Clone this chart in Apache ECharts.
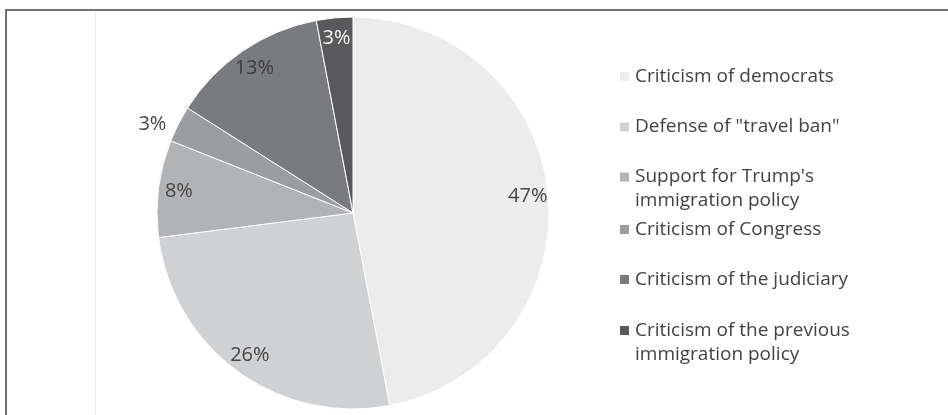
<!DOCTYPE html>
<html>
<head>
<meta charset="utf-8">
<script src="https://cdn.jsdelivr.net/npm/echarts@6/dist/echarts.min.js"></script>
<style>
html,body{margin:0;padding:0;background:#fff;}
#frame{position:absolute;left:5px;top:9px;width:943px;height:406px;border-top:2px solid #707070;border-left:2px solid #707070;box-sizing:border-box;}
#rule{position:absolute;left:95px;top:11px;width:1px;height:404px;background:#e8e8e8;}
#chart{position:absolute;left:0;top:0;width:948px;height:415px;}
</style>
</head>
<body>
<div id="frame"></div>
<div id="rule"></div>
<div id="chart"></div>
<script>
// ---- data ----
const categories = ['Criticism of democrats', 'Defense of "travel ban"', "Support for Trump's immigration policy", 'Criticism of Congress', 'Criticism of the judiciary', 'Criticism of the previous immigration policy'];
const values = [47, 26, 8, 3, 13, 3];
const legendLabels = ['Criticism of democrats', 'Defense of "travel ban"', "Support for Trump's\nimmigration policy", 'Criticism of Congress', 'Criticism of the judiciary', "Criticism of the previous\nimmigration policy"];

// ---- styles ----
const sliceColors = ['#ececed', '#d0d1d3', '#b2b3b5', '#9c9da0', '#7a7b7e', '#59595b'];
const labelColors = ['#454545', '#454545', '#454545', '#454545', '#3c3c3c', '#f4f4f4'];
const outsideLabel = [false, false, false, true, false, false];
const legendMid = [76.5, 127, 177, 229.5, 279.5, 330.5];
const FONT = "'Open Sans', sans-serif";
const LH = 24;

const chart = echarts.init(document.getElementById('chart'), null, {renderer: 'canvas'});

const legends = categories.map(function (name, i) {
  const twoLine = legendLabels[i].indexOf('\n') >= 0;
  return {
    data: [name],
    orient: 'vertical',
    left: 618,
    top: legendMid[i] - (twoLine ? LH * 1.5 : LH / 2),
    padding: 0,
    icon: 'rect',
    itemWidth: 11,
    itemHeight: 11,
    itemGap: 0,
    selectedMode: false,
    // two-line items: a blank leading line keeps the marker beside the first line
    formatter: function () { return twoLine ? '\n' + legendLabels[i] : legendLabels[i]; },
    textStyle: {
      fontFamily: FONT,
      fontSize: 19,
      color: '#424242',
      lineHeight: LH
    }
  };
});

const option = {
  animation: false,
  backgroundColor: 'transparent',
  legend: legends,
  series: [
    {
      type: 'pie',
      center: [353, 213],
      radius: 196,
      startAngle: 90,
      clockwise: true,
      avoidLabelOverlap: false,
      label: {show: false},
      labelLine: {show: false},
      itemStyle: {borderColor: '#ffffff', borderWidth: 1},
      emphasis: {disabled: true},
      data: categories.map(function (n, i) {
        return {name: n, value: values[i], itemStyle: {color: sliceColors[i]}};
      })
    },
    {
      type: 'pie',
      center: [353, 213],
      radius: [149, 196],
      startAngle: 90,
      clockwise: true,
      silent: true,
      legendHoverLink: false,
      avoidLabelOverlap: false,
      itemStyle: {color: 'rgba(0,0,0,0)', borderWidth: 0},
      emphasis: {disabled: true},
      label: {
        show: true,
        position: 'inside',
        formatter: '{c}%',
        fontFamily: FONT,
        fontSize: 20,
        distanceToLabelLine: 5
      },
      labelLine: {show: false, length: 0, length2: 7},
      data: categories.map(function (n, i) {
        return {
          name: n,
          value: values[i],
          label: {position: outsideLabel[i] ? 'outside' : 'inside', color: labelColors[i]}
        };
      })
    }
  ]
};
chart.setOption(option);
</script>
</body>
</html>
